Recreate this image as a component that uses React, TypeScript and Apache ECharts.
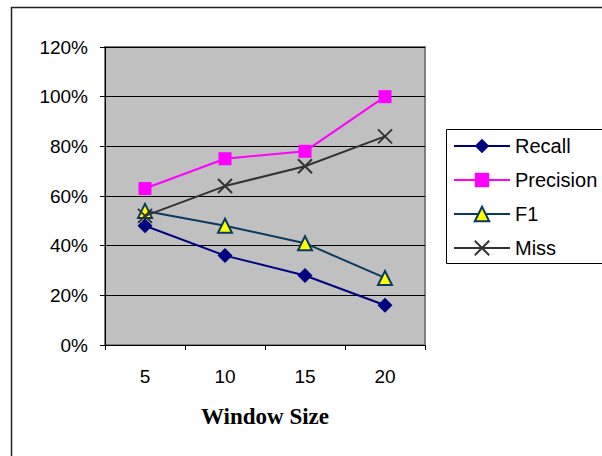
import React, { useEffect, useRef } from "react";
import * as echarts from "echarts";

const categories = ["5", "10", "15", "20"];
const recall = [0.48, 0.36, 0.28, 0.16];
const precision = [0.63, 0.75, 0.78, 1.0];
const f1 = [0.54, 0.48, 0.41, 0.27];
const miss = [0.52, 0.64, 0.72, 0.84];
const yTicks = [0, 0.2, 0.4, 0.6, 0.8, 1.0, 1.2];

const X_PATH = "path://M0,0L10,10M10,0L0,10";

export default function App() {
  const ref = useRef<HTMLDivElement>(null);
  useEffect(() => {
    if (!ref.current) return;
    const chart = echarts.init(ref.current, null, { renderer: "svg" });
    chart.setOption({
      animation: false,
      backgroundColor: "#ffffff",
      graphic: [
        {
          type: "rect",
          shape: { x: 11.5, y: 7.5, width: 640, height: 520 },
          style: { fill: "none", stroke: "#222", lineWidth: 1.5 },
          z: 0,
        },
        {
          type: "rect",
          shape: { x: 446.5, y: 129.5, width: 200, height: 134 },
          style: { fill: "#fff", stroke: "#000", lineWidth: 1 },
          z: 0,
        },
      ],
      grid: {
        left: 105,
        top: 47,
        width: 320,
        height: 298,
        show: true,
        backgroundColor: "#c0c0c0",
        borderColor: "#808080",
        borderWidth: 2,
      },
      legend: {
        orient: "vertical",
        left: 453,
        top: 136,
        padding: 0,
        itemWidth: 56,
        itemHeight: 18,
        itemGap: 14,
        textStyle: {
          fontFamily: "Liberation Sans, Arial, sans-serif",
          fontSize: 20,
          lineHeight: 18,
          color: "#000",
        },
        data: ["Recall", "Precision", "F1", "Miss"],
      },
      xAxis: {
        type: "category",
        data: categories,
        boundaryGap: true,
        name: "Window Size",
        nameLocation: "middle",
        nameGap: 60,
        nameTextStyle: {
          fontFamily: "Liberation Serif, Times New Roman, serif",
          fontWeight: "bold",
          fontSize: 23,
          color: "#000",
        },
        axisLine: { show: true, lineStyle: { color: "#000", width: 1 } },
        axisTick: { show: true, length: 5, inside: false, lineStyle: { color: "#000" } },
        axisLabel: {
          margin: 22,
          fontFamily: "Liberation Sans, Arial, sans-serif",
          fontSize: 19,
          color: "#000",
        },
        splitLine: { show: false },
      },
      yAxis: {
        type: "value",
        min: yTicks[0],
        max: yTicks[yTicks.length - 1],
        interval: 0.2,
        axisLine: { show: true, lineStyle: { color: "#000", width: 1 } },
        axisTick: { show: true, length: 5, inside: false, lineStyle: { color: "#000" } },
        axisLabel: {
          margin: 17,
          fontFamily: "Liberation Sans, Arial, sans-serif",
          fontSize: 19,
          color: "#000",
          formatter: (v: number) => Math.round(v * 100) + "%",
        },
        splitLine: { show: true, lineStyle: { color: "#000", width: 1 } },
      },
      series: [
        {
          name: "Recall",
          type: "line",
          data: recall,
          symbol: "diamond",
          symbolSize: 15,
          lineStyle: { color: "#000080", width: 2 },
          itemStyle: { color: "#000080" },
          z: 4,
        },
        {
          name: "Precision",
          type: "line",
          data: precision,
          symbol: "rect",
          symbolSize: 13,
          lineStyle: { color: "#ff00ff", width: 2 },
          itemStyle: { color: "#ff00ff" },
          z: 3,
        },
        {
          name: "F1",
          type: "line",
          data: f1,
          symbol: "triangle",
          symbolSize: 14,
          lineStyle: { color: "#0a3a5f", width: 2 },
          itemStyle: { color: "#ffff00", borderColor: "#0a3a5f", borderWidth: 2 },
          z: 5,
        },
        {
          name: "Miss",
          type: "line",
          data: miss,
          symbol: X_PATH,
          symbolSize: 14,
          lineStyle: { color: "#333333", width: 2 },
          itemStyle: { color: "none", borderColor: "#333333", borderWidth: 2 },
          z: 6,
        },
      ],
    });
    return () => chart.dispose();
  }, []);
  return (
    <div
      ref={ref}
      style={{ position: "fixed", left: 0, top: 0, width: 602, height: 456 }}
    />
  );
}
